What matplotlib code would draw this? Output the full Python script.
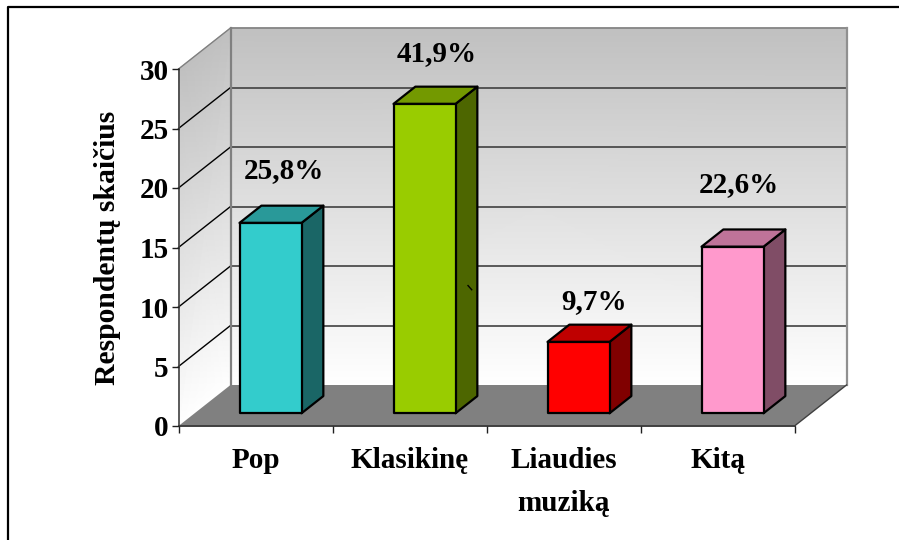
import numpy as np
import matplotlib
matplotlib.use("Agg")
import matplotlib.pyplot as plt
from matplotlib.patches import Polygon
from matplotlib.colors import LinearSegmentedColormap

categories = ["Pop", "Klasikinę", "Liaudies\nmuziką", "Kitą"]
counts = [16, 26, 6, 14]
pct_labels = ["25,8%", "41,9%", "9,7%", "22,6%"]
front_colors = ["#33CCCC", "#99CC00", "#FF0000", "#FF99CC"]
top_colors = ["#299999", "#739900", "#BF0000", "#BF7399"]
side_colors = ["#1A6666", "#4D6600", "#800000", "#804D66"]
y_ticks = [0, 5, 10, 15, 20, 25, 30]

W, H = 899, 540
FONT = "Liberation Serif"
FS = 21
fig = plt.figure(figsize=(W / 100, H / 100), dpi=100, facecolor="white")
L, R, T, B = 178.5, 794.5, 69.0, 426.0
ax = fig.add_axes([L / W, 1 - B / H, (R - L) / W, (B - T) / H])
ax.set_xlim(0, 4)
ax.set_ylim(0, 30)
ax.axis("off")

DX = 52 / 154  # depth in x units
DY = 41 / 11.9  # depth in y units


def pj(x, y, d):
    return x + DX * d, y + DY * d


cmap = LinearSegmentedColormap.from_list("wall", ["#FFFFFF", "#C0C0C0"])
zz = np.array([[0, 0], [30, 30]], dtype=float)
# back wall
X = np.array([[0, 4], [0, 4]], dtype=float) + DX
Y = np.array([[0, 0], [30, 30]], dtype=float) + DY
ax.pcolormesh(X, Y, zz, cmap=cmap, shading="gouraud", zorder=1, clip_on=False)
# side wall
X = np.array([[0, DX], [0, DX]], dtype=float)
Y = np.array([[0, DY], [30, 30 + DY]], dtype=float)
ax.pcolormesh(X, Y, zz, cmap=cmap, shading="gouraud", zorder=1, clip_on=False)


def poly(pts, **kw):
    ax.add_patch(Polygon(pts, closed=True, clip_on=False, **kw))


# floor
poly([pj(0, 0, 0), pj(4, 0, 0), pj(4, 0, 1), pj(0, 0, 1)],
     fc="#808080", ec="none", zorder=2)

# gridlines
for v in y_ticks[1:]:
    col = "#808080" if v == 30 else "#404040"
    ax.plot([DX, 4 + DX], [v + DY, v + DY], color=col, lw=1.2, zorder=2, clip_on=False)
    ax.plot([0, DX], [v, v + DY], color="#808080" if v == 30 else "black",
            lw=1.0, zorder=2, clip_on=False)
# wall frame
ax.plot([DX, DX], [DY, 30 + DY], color="#808080", lw=1.6, zorder=2, clip_on=False)
ax.plot([4 + DX, 4 + DX], [DY, 30 + DY], color="#909090", lw=1.6, zorder=2, clip_on=False)

# bars
BW = 62 / 154
D0, D1 = 0.31, 0.73
# label centres relative to (category centre, bar top), in x units and y units
label_dx = [0.187, 0.174, 0.2, 0.136]
label_dy = [4.37, 4.2, 3.36, 5.2]
for i, v in enumerate(counts):
    x0 = i + (240 - 179 - 0.31 * 52) / 154
    x1 = x0 + BW
    kw = dict(ec="black", lw=1.6, zorder=5, joinstyle="round")
    front = [pj(x0, 0, D0), pj(x1, 0, D0), pj(x1, v, D0), pj(x0, v, D0)]
    side = [pj(x1, 0, D0), pj(x1, 0, D1), pj(x1, v, D1), pj(x1, v, D0)]
    top = [pj(x0, v, D0), pj(x1, v, D0), pj(x1, v, D1), pj(x0, v, D1)]
    poly(side, fc=side_colors[i], **kw)
    poly(top, fc=top_colors[i], **kw)
    poly(front, fc=front_colors[i], **kw)
    ax.text(i + 0.5 + label_dx[i], v + 1.09 + label_dy[i], pct_labels[i], family=FONT,
            weight="bold", fontsize=FS, ha="center", va="center", zorder=6, clip_on=False)

# stray mark on the second bar's side face
ax.plot([1.88, 1.904], [11.8, 11.45], color="black", lw=1.0, zorder=6)

# axes
ax.plot([0, 0], [0, 30], color="#404040", lw=1.2, zorder=3, clip_on=False)
ax.plot([0, 4], [0, 0], color="#404040", lw=1.4, zorder=3, clip_on=False)
ax.plot([4, 4 + DX], [0, DY], color="#404040", lw=1.0, zorder=3, clip_on=False)

# ticks and labels
ax2 = fig.add_axes(ax.get_position(), facecolor="none")
ax2.set_xlim(0, 4)
ax2.set_ylim(0, 30)
for s in ax2.spines.values():
    s.set_visible(False)
ax2.set_yticks(y_ticks)
ax2.set_yticklabels([str(t) for t in y_ticks], family=FONT, weight="bold", fontsize=FS)
ax2.set_xticks(range(5))
ax2.set_xticklabels([])
ax2.tick_params(axis="y", length=5, width=1, color="#202020", pad=2)
ax2.tick_params(axis="x", length=5, width=1, color="#202020")
for i, c in enumerate(categories):
    ax2.text(i + 0.5, -1.75, c, family=FONT, weight="bold", fontsize=FS,
             ha="center", va="top", linespacing=1.75, clip_on=False)
ax2.set_ylabel("Respondentų skaičius", family=FONT, weight="bold", fontsize=21.3, labelpad=13)

# outer frame (left and top only)
fig.add_artist(plt.Line2D([8 / W, 8 / W, 1], [0, 1 - 7 / H, 1 - 7 / H], color="black", lw=1.6))

fig.savefig("out.png", dpi=100)
